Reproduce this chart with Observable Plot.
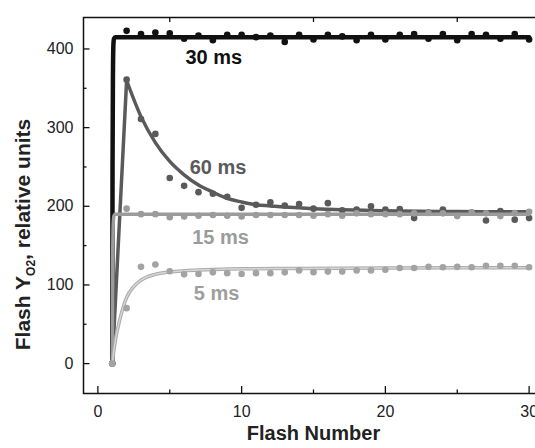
<!DOCTYPE html>
<html>
<head>
<meta charset="utf-8">
<script src="https://cdn.jsdelivr.net/npm/d3@7"></script>
<script src="https://cdn.jsdelivr.net/npm/@observablehq/plot@0.6"></script>
<style>
  html, body { margin: 0; padding: 0; background: white; overflow: hidden; }
  #chart svg { overflow: hidden; }
</style>
</head>
<body>
<div id="chart"></div>
<script>
// ---- data ----
const flashNumber = [1,2,3,4,5,6,7,8,9,10,11,12,13,14,15,16,17,18,19,20,21,22,23,24,25,26,27,28,29,30];
const yield30ms = [0,423,419,421,420,413,417,411,418,418,415,417,409,418,412,418,416,411,418,412,418,419,413,419,411,419,418,413,419,412];
const yield60ms = [0,361,311,292,236,226,218,216,212,198,202,205,201,203,197,204,195,196,200,196,196.5,185,192,196,190,192,182,194,183,185];
const yield15ms = [0,197,190,190,186,187,188,189,188,187,189,189,189,189,188,190,188,191,190,190,190,191,191.5,191,187.5,192,191,187.5,191.5,193];
const yield5ms  = [0,70.5,123,126,117.5,113.5,114,116,115,114,115,115,116,118.5,116.3,117,117,118.5,118.5,119.4,121.5,121.5,123,122.5,123,122.5,124.5,124.5,124.5,122.5];

// fitted curves
const fit30X = [1, 1.02, 1.05, 1.08, 1.12, 1.2, 30];
const fit30Y = [0, 250, 370, 405, 413, 415, 415];
const fit15X = [1, 1.02, 1.05, 1.08, 1.12, 1.2, 30];
const fit15Y = [0, 110, 165, 182, 188, 190, 190];
const fit60RiseX = [1, 2];
const fit60RiseY = [0, 360];
const fit60X = [2,3,4,5,6,7,8,9,10,11,12,13,14,15,17,19,21,25,30];
const fit60Y = [360,314,281,257,240,227,218,210,205.5,202,200.5,199,198,197,195.6,194.8,194,193.3,193];
const fit5X = [1, 1.1, 1.25, 1.5, 1.75, 2, 2.5, 3, 4, 5, 6, 8, 10, 14, 20, 30];
const fit5Y = [0, 15, 33, 54, 71, 84, 98, 106, 113.5, 116.5, 118, 119.5, 120.5, 121, 121.5, 122];

// series labels and their anchor points (data units)
const seriesNames = ["30 ms", "60 ms", "15 ms", "5 ms"];
const labelFlash = [6.09, 6.39, 6.56, 6.67];
const labelYield = [388.5, 249.6, 160.6, 89.4];

const xMajorTicks = [0, 10, 20, 30];
const xMinorTicks = [5, 15, 25];
const yMajorTicks = [0, 100, 200, 300, 400];
const yMinorTicks = [50, 150, 250, 350];

// ---- build tables ----
const pts = (ys) => flashNumber.map((n, i) => ({x: n, y: ys[i]}));
const curve = (xs, ys) => xs.map((x, i) => ({x, y: ys[i]}));
const labels = seriesNames.map((t, i) => ({t, x: labelFlash[i], y: labelYield[i]}));

const colors = {"30 ms": "#111111", "60 ms": "#5a5a5a", "15 ms": "#9b9b9b", "5 ms": "#9e9e9e"};

const chart = Plot.plot({
  width: 535,
  height: 448,
  marginTop: 17,
  marginBottom: 55,
  marginLeft: 83,
  marginRight: -8,
  x: {domain: [-1, 31]},
  y: {domain: [-38, 440]},
  style: {fontFamily: "'Liberation Sans', Arial, sans-serif", fontSize: "16px", color: "#222", background: "white"},
  marks: [
    // 30 ms
    Plot.line(curve(fit30X, fit30Y), {x: "x", y: "y", stroke: "#111", strokeWidth: 4.5, curve: "monotone-x", strokeLinejoin: "round", strokeLinecap: "round"}),
    Plot.dot(pts(yield30ms), {x: "x", y: "y", r: 3.3, fill: "#111", stroke: null}),
    // 60 ms
    Plot.line(curve(fit60RiseX, fit60RiseY), {x: "x", y: "y", stroke: "#5a5a5a", strokeWidth: 3.5, strokeLinecap: "round"}),
    Plot.line(curve(fit60X, fit60Y), {x: "x", y: "y", stroke: "#5a5a5a", strokeWidth: 3.5, curve: "monotone-x", strokeLinecap: "round"}),
    Plot.dot(pts(yield60ms), {x: "x", y: "y", r: 3.3, fill: "#5a5a5a", stroke: null}),
    // 15 ms
    Plot.line(curve(fit15X, fit15Y), {x: "x", y: "y", stroke: "#9b9b9b", strokeWidth: 3.5, curve: "monotone-x", strokeLinejoin: "round", strokeLinecap: "round"}),
    Plot.dot(pts(yield15ms), {x: "x", y: "y", r: 3.3, fill: "#9b9b9b", stroke: null}),
    // 5 ms
    Plot.line(curve(fit5X, fit5Y), {x: "x", y: "y", stroke: "#ababab", strokeWidth: 3.5, curve: "monotone-x", strokeLinecap: "round"}),
    Plot.line(curve(fit5X, fit5Y), {x: "x", y: "y", stroke: "#d6d6d6", strokeWidth: 1.4, curve: "monotone-x", strokeLinecap: "round"}),
    Plot.dot(pts(yield5ms), {x: "x", y: "y", r: 3.3, fill: "#a3a3a3", stroke: null}),
    // series labels
    Plot.text(labels, {x: "x", y: "y", text: "t", textAnchor: "start", fontSize: 20, fontWeight: "bold", fill: d => colors[d.t]}),
    // frame and axes
    Plot.frame({stroke: "#111", strokeWidth: 1.5}),
    Plot.axisX({ticks: xMajorTicks, tickSize: -7, tickPadding: 19, tickFormat: d => String(d), label: null, stroke: "#111", strokeWidth: 1.3, fill: "#222"}),
    Plot.axisX({ticks: xMinorTicks, tickSize: -3.5, text: null, label: null, stroke: "#111", strokeWidth: 1.3}),
    Plot.axisX({anchor: "top", ticks: xMinorTicks, tickSize: -4, text: null, label: null, stroke: "#111", strokeWidth: 1.3}),
    Plot.axisY({ticks: yMajorTicks, tickSize: -6.5, tickPadding: 16.5, tickFormat: d => String(d), label: null, stroke: "#111", strokeWidth: 1.3, fill: "#222"}),
    Plot.axisY({ticks: yMinorTicks, tickSize: -3.5, text: null, label: null, stroke: "#111", strokeWidth: 1.3}),
    Plot.text(["Flash Number"], {frameAnchor: "bottom", dy: 46.5, fontSize: 20, fontWeight: "bold", fill: "#222"})
  ]
});

document.getElementById("chart").appendChild(chart);

// y-axis title with subscript
const svg = d3.select(chart.tagName.toLowerCase() === "svg" ? chart : chart.querySelector("svg"));
const yTitle = svg.append("text")
  .attr("transform", "translate(30,234.5) rotate(-90)")
  .attr("text-anchor", "middle")
  .attr("font-size", 21)
  .attr("font-weight", "bold")
  .attr("fill", "#222");
yTitle.append("tspan").text("Flash Y");
yTitle.append("tspan").attr("font-size", 12).attr("dy", 5).text("O2");
yTitle.append("tspan").attr("dy", -5).text(", relative units");
</script>
</body>
</html>
